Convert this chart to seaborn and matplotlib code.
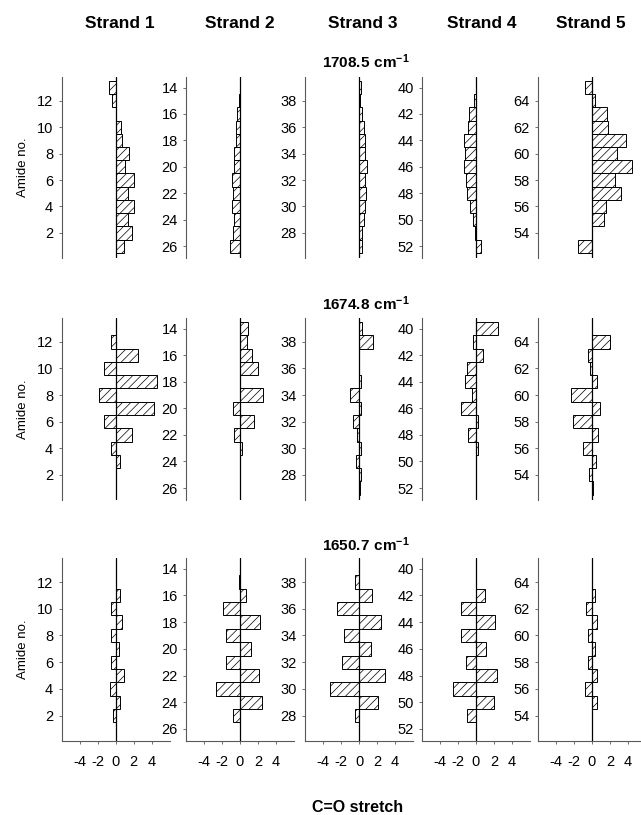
import matplotlib
matplotlib.use("Agg")
import matplotlib.pyplot as plt
import pandas as pd
import seaborn as sns

# ---------------- data ----------------
amide = list(range(1, 66))
strand_names = ["Strand 1", "Strand 2", "Strand 3", "Strand 4", "Strand 5"]
strand_first = [1, 14, 27, 40, 53]
strand_last = [13, 26, 39, 52, 65]
strand_up = [True, False, True, False, True]
y_ticks = [[2, 4, 6, 8, 10, 12],
           [14, 16, 18, 20, 22, 24, 26],
           [28, 30, 32, 34, 36, 38],
           [40, 42, 44, 46, 48, 50, 52],
           [54, 56, 58, 60, 62, 64]]
x_ticks = [-4, -2, 0, 2, 4]
freq_labels = ["1708.5", "1674.8", "1650.7"]

shift_1708 = [0.95, 1.85, 1.4, 2.1, 1.4, 2.0, 1.1, 1.45, 0.7, 0.65, 0.0, -0.35, -0.7,
              0.0, -0.1, -0.3, -0.45, -0.5, -0.7, -0.7, -0.85, -0.75, -0.85, -0.65, -0.75, -1.1,
              0.3, 0.35, 0.5, 0.65, 0.8, 0.7, 0.85, 0.65, 0.65, 0.5, 0.35, 0.1, 0.2,
              -0.05, -0.2, -0.75, -0.9, -1.35, -1.2, -1.35, -1.1, -1.0, -0.7, -0.35, -0.1, 0.5,
              -1.6, 0.0, 1.3, 1.6, 3.25, 2.6, 4.4, 2.8, 3.75, 1.8, 1.7, 0.35, -0.75]
shift_1674 = [0.1, 0.0, 0.5, -0.55, 1.85, -1.25, 4.3, -1.8, 4.6, -1.3, 2.5, -0.55, 0.05,
              0.9, 0.8, 1.3, 2.05, 0.0, 2.5, -0.8, 1.5, -0.7, 0.2, 0.0, 0.0, 0.0,
              0.1, 0.25, -0.35, 0.2, -0.25, -0.7, 0.2, -0.95, 0.25, 0.0, 0.0, 1.5, 0.35,
              2.45, -0.35, 0.75, -1.0, -1.2, -0.5, -1.65, 0.2, -0.85, 0.2, 0.0, 0.0, 0.0,
              0.1, -0.3, 0.4, -1.0, 0.65, -2.15, 0.9, -2.3, 0.5, -0.2, -0.4, 2.05, 0.0]
shift_1650 = [0.0, -0.25, 0.55, -0.65, 0.95, -0.45, 0.4, -0.45, 0.7, -0.45, 0.5, 0.0, 0.0,
              0.0, -0.1, 0.65, -1.85, 2.25, -1.6, 1.2, -1.55, 2.1, -2.7, 2.45, -0.8, 0.0,
              0.0, -0.5, 2.15, -3.2, 2.9, -1.9, 1.3, -1.7, 2.45, -2.5, 1.45, -0.4, 0.0,
              -0.05, 0.0, 1.0, -1.7, 2.15, -1.7, 1.15, -1.1, 2.3, -2.6, 2.05, -0.95, 0.0,
              0.0, 0.0, 0.5, -0.8, 0.55, -0.5, 0.35, -0.45, 0.5, -0.7, 0.3, 0.05, 0.0]
row_values = [shift_1708, shift_1674, shift_1650]

# ---------------- style ----------------
sns.set_theme(style="white")
plt.rcParams["font.family"] = ["Liberation Sans", "DejaVu Sans"]
plt.rcParams["axes.unicode_minus"] = False
plt.rcParams["hatch.linewidth"] = 0.5
plt.rcParams["hatch.color"] = "black"
plt.rcParams["text.color"] = "black"
plt.rcParams["axes.labelcolor"] = "black"
plt.rcParams["xtick.color"] = "black"
plt.rcParams["ytick.color"] = "black"
plt.rcParams["mathtext.fontset"] = "custom"
plt.rcParams["mathtext.rm"] = "Liberation Sans"
plt.rcParams["mathtext.bf"] = "Liberation Sans:bold"

W, H = 641, 815
fig = plt.figure(figsize=(W / 100, H / 100), dpi=100)

lefts = [61.5, 186, 305, 422, 538]
pw = 108
rows_px = [(77, 258), (318, 500), (558, 741)]
title_x = [119.5, 240, 363, 482, 591]
label_y = [62, 304, 545]

for r, vals in enumerate(row_values):
    df = pd.DataFrame({"amide": amide, "shift": vals})
    top, bot = rows_px[r]
    for s in range(5):
        ax = fig.add_axes([lefts[s] / W, 1 - bot / H, pw / W, (bot - top) / H])
        sub = df[(df["amide"] >= strand_first[s]) & (df["amide"] <= strand_last[s])]
        sns.barplot(data=sub, x="shift", y="amide", orient="y", native_scale=True,
                    width=1.0, color="white", saturation=1, edgecolor="black",
                    linewidth=0.7, hatch="////", errorbar=None, ax=ax)
        ax.axvline(0, color="black", lw=0.9, zorder=3)
        ax.set_xlim(-6, 6)
        if strand_up[s]:
            ax.set_ylim(strand_first[s] - 0.9, strand_last[s] + 0.8)
        else:
            ax.set_ylim(strand_last[s] + 0.9, strand_first[s] - 0.8)
        ax.set_yticks(y_ticks[s])
        ax.set_yticklabels([str(t) for t in y_ticks[s]])
        ax.set_xlabel("")
        ax.set_ylabel("")
        for side in ("top", "right"):
            ax.spines[side].set_visible(False)
        ax.spines["left"].set_color("0.35")
        ax.spines["left"].set_linewidth(0.8)
        ax.tick_params(axis="y", left=True, length=2, width=0.6, color="0.35",
                       labelsize=10.5, pad=4, labelcolor="black")
        if r == 2:
            ax.spines["bottom"].set_color("0.35")
            ax.spines["bottom"].set_linewidth(0.8)
            ax.set_xticks(x_ticks)
            ax.set_xticklabels([str(t) for t in x_ticks])
            ax.tick_params(axis="x", bottom=True, length=2, width=0.6, color="0.35",
                           labelsize=10.5, pad=8, labelcolor="black")
        else:
            ax.spines["bottom"].set_visible(False)
            ax.set_xticks([])
        ax.set_facecolor("white")
    fig.text(23 / W, 1 - ((top + bot) / 2) / H, "Amide no.", rotation=90,
             ha="center", va="center", fontsize=9.5)
    fig.text(366 / W, 1 - label_y[r] / H,
             r"$\mathbf{" + freq_labels[r] + r"\ cm^{-1}}$",
             ha="center", va="center", fontsize=11)

for s in range(5):
    fig.text(title_x[s] / W, 1 - 24 / H, strand_names[s], ha="center", va="center",
             fontsize=12.5, fontweight="bold")

fig.text(358 / W, 1 - 807 / H, "C=O stretch", ha="center", va="center",
         fontsize=11.5, fontweight="bold")

fig.savefig("out.png", dpi=100, facecolor="white")
